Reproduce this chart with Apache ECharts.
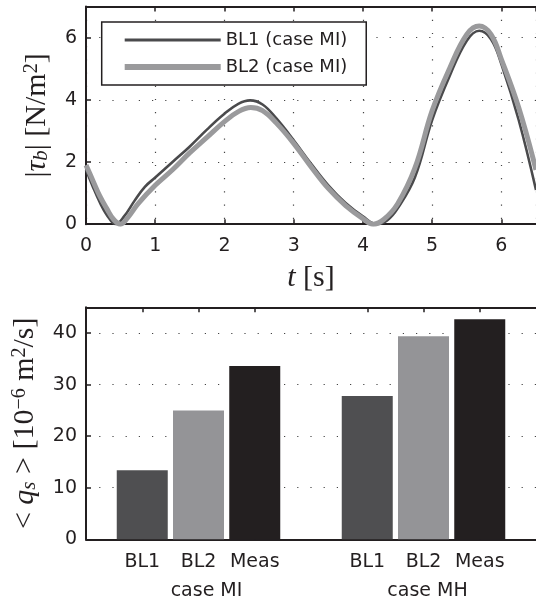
<!DOCTYPE html>
<html><head><meta charset="utf-8">
<script src="https://cdn.jsdelivr.net/npm/echarts@6/dist/echarts.min.js"></script>
<style>html,body{margin:0;padding:0;background:#fff}#c{width:536px;height:601px}</style>
</head><body><div id="c"></div>
<script>
// ---- top panel data: |tau_b| vs t ----
const tBL1 = [0,0.1,0.2,0.3,0.43,0.55,0.7,0.85,1.0,1.25,1.5,1.75,2.0,2.2,2.37,2.55,2.75,3.0,3.25,3.5,3.75,4.0,4.2,4.35,4.5,4.75,5.0,5.25,5.5,5.68,5.85,6.0,6.25,6.5];
const vBL1 = [1.75,1.2,0.7,0.3,0.0,0.25,0.75,1.2,1.5,2.0,2.5,3.05,3.55,3.87,3.98,3.85,3.4,2.7,1.95,1.25,0.68,0.25,0.0,0.12,0.5,1.5,3.35,4.75,5.9,6.22,5.95,5.15,3.35,1.1];
const tBL2 = [0,0.1,0.2,0.3,0.4,0.5,0.6,0.75,1.0,1.25,1.5,1.75,2.0,2.2,2.38,2.55,2.75,3.0,3.25,3.5,3.75,4.0,4.15,4.3,4.5,4.75,5.0,5.25,5.5,5.68,5.85,6.0,6.25,6.5];
const vBL2 = [1.9,1.4,0.9,0.5,0.15,0.0,0.2,0.65,1.25,1.75,2.3,2.8,3.3,3.62,3.75,3.65,3.25,2.6,1.85,1.15,0.6,0.18,0.0,0.15,0.65,1.8,3.65,5.0,6.1,6.37,6.1,5.3,3.75,1.75];
const lineNames = ['BL1 (case MI)', 'BL2 (case MI)'];
const topXTicks = [0,1,2,3,4,5,6];
const topYTicks = [0,2,4,6];

// ---- bottom panel data: <q_s> ----
const barPos = [1,2,3,5,6,7];
const barLabels = ['BL1','BL2','Meas','BL1','BL2','Meas'];
const barValues = [13.4,25.0,33.6,27.8,39.4,42.7];
const casePos = [2,6];
const caseNames = ['case MI','case MH'];
const bottomYTicks = [0,10,20,30,40];

const ink = '#231f20';
const c1 = '#4a4a4c', c2 = '#9a9a9c';
const barColors = ['#4f4f51','#949497','#231f20'];
const sans = 'DejaVu Sans';
const serif = 'Liberation Serif';

const dotted = {show:true, lineStyle:{color:'#444', width:1.2, type:[1.2,12]}};
const axLine = {show:true, onZero:false, lineStyle:{color:ink, width:2}};
const tick = {show:true, inside:true, length:5, lineStyle:{color:ink, width:1.5}};
const lbl = {color:ink, fontFamily:sans, fontSize:19};

function zip(a,b){return a.map((x,i)=>[x,b[i]]);}

const nameRich = {
  i:{fontFamily:serif, fontStyle:'italic', fontSize:30, color:ink},
  sub:{fontFamily:serif, fontStyle:'italic', fontSize:21, color:ink, verticalAlign:'bottom'},
  sup:{fontFamily:serif, fontSize:20, color:ink, verticalAlign:'top'}
};

const chart = echarts.init(document.getElementById('c'));
chart.setOption({
  animation:false,
  backgroundColor:'#fff',
  grid:[
    {left:86, top:6.5, right:-4, height:217.7, containLabel:false},
    {left:86, top:307.3, right:-4, height:232, containLabel:false}
  ],
  legend:{
    data:[
      {name:lineNames[0], lineStyle:{color:c1, width:3}},
      {name:lineNames[1], lineStyle:{color:c2, width:6}}
    ],
    orient:'vertical', left:101.7, top:22,
    itemWidth:96, itemHeight:14, itemGap:9,
    padding:[9,19,9,20],
    itemStyle:{opacity:0},
    borderColor:ink, borderWidth:1.5, backgroundColor:'#fff',
    textStyle:{color:ink, fontFamily:sans, fontSize:18}
  },
  xAxis:[
    {gridIndex:0, type:'value', min:0, max:6.5, interval:1, position:'bottom',
     axisLine:axLine, axisTick:tick, splitLine:dotted,
     axisLabel:Object.assign({margin:12, showMaxLabel:false, formatter:v=>topXTicks.includes(v)?String(v):''}, lbl),
     name:'{i|t} [s]', nameLocation:'middle', nameGap:39,
     nameTextStyle:{fontFamily:serif, fontSize:30, color:ink, rich:nameRich}},
    {gridIndex:0, type:'value', min:0, max:6.5, interval:1, position:'top',
     axisLine:axLine, axisTick:tick, splitLine:{show:false}, axisLabel:{show:false}},
    {gridIndex:1, type:'value', min:0, max:8, position:'bottom',
     axisLine:axLine, axisTick:Object.assign({customValues:barPos}, tick), splitLine:{show:false},
     axisLabel:Object.assign({customValues:barPos, margin:13, showMinLabel:true, showMaxLabel:true, hideOverlap:false,
       formatter:function(v){const i=barPos.indexOf(v); return i<0?'':barLabels[i];}}, lbl)},
    {gridIndex:1, type:'value', min:0, max:8, position:'top',
     axisLine:axLine, axisTick:Object.assign({customValues:barPos}, tick), splitLine:{show:false}, axisLabel:{show:false}},
    {gridIndex:1, type:'value', min:0, max:8, position:'bottom',
     axisLine:{show:false}, axisTick:{show:false}, splitLine:{show:false},
     axisLabel:{customValues:casePos, margin:42, showMinLabel:true, showMaxLabel:true,
       formatter:function(v){const i=casePos.indexOf(v); return i<0?'':(i===0?'{b|':'{c|')+caseNames[i]+'}';},
       rich:{b:{fontFamily:sans,fontSize:19,color:ink,padding:[0,0,0,16]},
             c:{fontFamily:sans,fontSize:19,color:ink,padding:[0,0,0,8]}}}}
  ],
  yAxis:[
    {gridIndex:0, type:'value', min:0, max:7, interval:2,
     axisLine:axLine, axisTick:tick, splitLine:dotted,
     axisLabel:Object.assign({margin:9, showMaxLabel:false, formatter:v=>topYTicks.includes(v)?String(v):''}, lbl),
     name:'|{i|τ}{sub|b}| [N/m{sup|2}]', nameLocation:'middle', nameRotate:90, nameGap:34,
     nameTextStyle:{fontFamily:serif, fontSize:30, color:ink, rich:nameRich}},
    {gridIndex:1, type:'value', min:0, max:45, interval:10,
     axisLine:axLine, axisTick:tick, splitLine:dotted,
     axisLabel:Object.assign({margin:9, showMaxLabel:false, formatter:v=>bottomYTicks.includes(v)?String(v):''}, lbl),
     name:'< {i|q}{sub|s} > [10{sup|−6} m{sup|2}/s]', nameLocation:'middle', nameRotate:90, nameGap:46,
     nameTextStyle:{fontFamily:serif, fontSize:30, color:ink, rich:nameRich}}
  ],
  series:[
    {name:lineNames[0], type:'line', xAxisIndex:0, yAxisIndex:0, data:zip(tBL1,vBL1),
     smooth:0.4, showSymbol:false, symbol:'none', z:3, color:c1, lineStyle:{color:c1, width:2.6}},
    {name:lineNames[1], type:'line', xAxisIndex:0, yAxisIndex:0, data:zip(tBL2,vBL2),
     smooth:0.4, showSymbol:false, symbol:'none', z:4, color:c2, lineStyle:{color:c2, width:5}},
    {type:'bar', xAxisIndex:2, yAxisIndex:1, data:zip(barPos,barValues), barWidth:51,
     itemStyle:{color:p=>barColors[p.dataIndex%3]}}
  ]
});
</script></body></html>
